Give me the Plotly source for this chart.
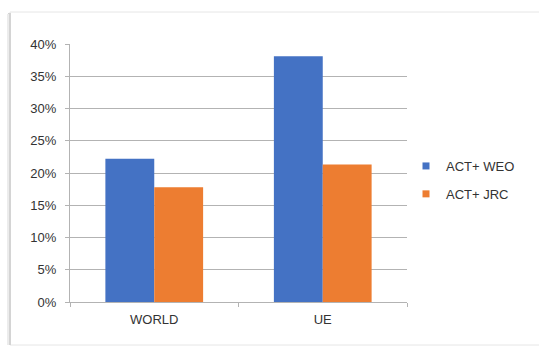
import plotly.graph_objects as go

categories = ["WORLD", "UE"]
weo_values = [0.222, 0.381]
jrc_values = [0.178, 0.213]
series_names = ["ACT+ WEO", "ACT+ JRC"]
series_colors = ["#4472C4", "#ED7D31"]
y_ticks = [0, 0.05, 0.10, 0.15, 0.20, 0.25, 0.30, 0.35, 0.40]

W, H = 539, 346
L, R, T, B = 70, 132, 44, 44
pw, ph = W - L - R, H - T - B


def px_x(px):
    return (px - L) / pw


def px_y(py):
    return (H - B - py) / ph


fig = go.Figure()
for vals, name, color in zip([weo_values, jrc_values], series_names, series_colors):
    fig.add_trace(go.Bar(x=categories, y=vals, name=name,
                         marker=dict(color=color, line=dict(width=0)),
                         showlegend=False))
    # small square legend keys
    fig.add_trace(go.Scatter(x=[None], y=[None], mode="markers", name=name,
                             marker=dict(symbol="square", size=7, color=color),
                             legendgroup=name))

# card frame with soft shadow on the left / top
shapes = [
    dict(type="rect", xref="paper", yref="paper",
         x0=px_x(10), x1=px_x(560), y0=px_y(345), y1=px_y(12),
         line=dict(color="#e6e6e6", width=1), fillcolor="rgba(0,0,0,0)", layer="below"),
    dict(type="line", xref="paper", yref="paper",
         x0=px_x(9.5), x1=px_x(9.5), y0=px_y(345), y1=px_y(13),
         line=dict(color="#d4d4d4", width=3), layer="below"),
    dict(type="line", xref="paper", yref="paper",
         x0=px_x(8), x1=px_x(8), y0=px_y(345), y1=px_y(14),
         line=dict(color="#ececec", width=2), layer="below"),
]

fig.update_layout(
    width=W, height=H,
    margin=dict(l=L, r=R, t=T, b=B, autoexpand=False),
    paper_bgcolor="white", plot_bgcolor="white",
    barmode="group", bargap=0.42, bargroupgap=0,
    font=dict(family="Liberation Sans, Arial, sans-serif", size=13, color="#333333"),
    showlegend=True,
    legend=dict(x=px_x(406), y=px_y(151), xanchor="left", yanchor="top",
                font=dict(size=13, color="#333333"), tracegroupgap=8,
                itemwidth=30, bgcolor="rgba(0,0,0,0)"),
    shapes=shapes,
    xaxis=dict(type="category", showline=True, linecolor="#b3b3b3", linewidth=1,
               ticks="outside", tickson="boundaries", ticklen=4, tickcolor="#b3b3b3",
               ticklabelstandoff=5,
               showgrid=False, tickfont=dict(size=13, color="#333333")),
    yaxis=dict(range=[0, 0.40], tickvals=y_ticks, tickformat=".0%",
               showline=True, linecolor="#b3b3b3", linewidth=1,
               ticks="outside", ticklen=4, tickcolor="#b3b3b3",
               ticklabelstandoff=6,
               showgrid=True, gridcolor="#b3b3b3", gridwidth=1,
               zeroline=False, tickfont=dict(size=13, color="#333333")),
)

fig.write_html("out.html")
